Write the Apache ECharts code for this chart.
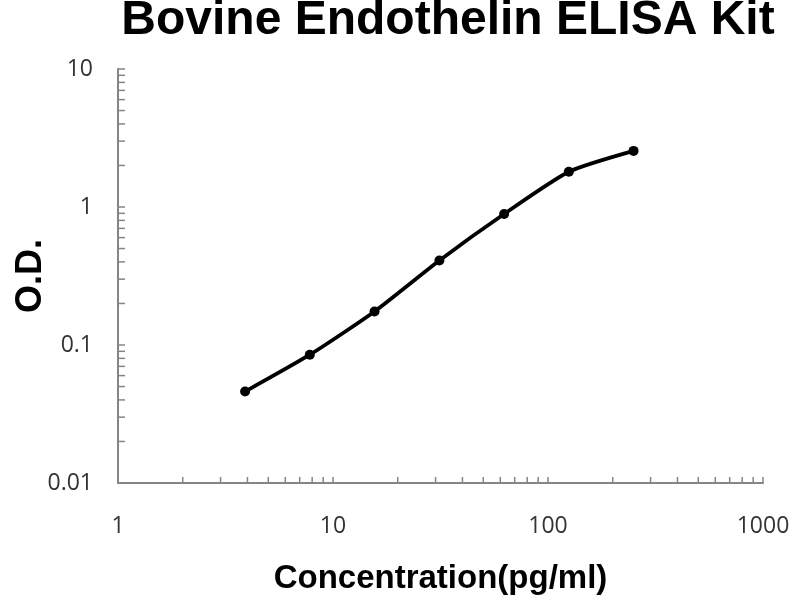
<!DOCTYPE html>
<html><head><meta charset="utf-8">
<script src="https://cdn.jsdelivr.net/npm/echarts@6/dist/echarts.min.js"></script>
<style>html,body{margin:0;padding:0;background:#fff}#c{width:800px;height:600px}</style>
</head><body><div id="c"></div>
<script>
const concentration = [3.9, 7.8, 15.6, 31.25, 62.5, 125, 250];
const od = [0.046, 0.085, 0.175, 0.41, 0.89, 1.8, 2.55];
const xTickLabels = ['1', '10', '100', '1000'];
const yTickLabels = ['0.01', '0.1', '1', '10'];

const xMinor = [], yMinor = [];
for (let e = 0; e < 3; e++) for (let m = 2; m <= 9; m++) xMinor.push([m * Math.pow(10, e), 0.01]);
for (let e = -2; e < 1; e++) for (let m = 2; m <= 9; m++) yMinor.push([1, +(m * Math.pow(10, e)).toPrecision(3)]);

const chart = echarts.init(document.getElementById('c'));
const axisGray = '#858585';
chart.setOption({
  animation: false,
  backgroundColor: '#fff',
  title: {
    text: 'Bovine Endothelin ELISA Kit', left: 443, textAlign: 'center', top: -8,
    textStyle: { fontFamily: 'Liberation Sans', fontWeight: 'bold', fontSize: 48, color: '#000' }
  },
  grid: { left: 118, right: 37, top: 69, bottom: 117, containLabel: false, outerBoundsMode: 'none' },
  xAxis: {
    type: 'log', logBase: 10, min: 1, max: 1000,
    name: 'Concentration(pg/ml)', nameLocation: 'middle', nameGap: 79, nameMoveOverlap: false,
    nameTextStyle: { fontFamily: 'Liberation Sans', fontWeight: 'bold', fontSize: 33, color: '#000' },
    axisLine: { lineStyle: { color: axisGray, width: 2 } },
    axisTick: { inside: true, length: 6, lineStyle: { color: axisGray, width: 1.5 } },
    axisLabel: { margin: 32, fontFamily: 'Open Sans', fontSize: 23, color: '#333',
      formatter: v => xTickLabels[Math.round(Math.log10(v))] },
    splitLine: { show: false }
  },
  yAxis: {
    type: 'log', logBase: 10, min: 0.01, max: 10,
    name: 'O.D.', nameLocation: 'middle', nameGap: 69, nameMoveOverlap: false,
    nameTextStyle: { fontFamily: 'Liberation Sans', fontWeight: 'bold', fontSize: 36, color: '#000' },
    axisLine: { lineStyle: { color: axisGray, width: 2 } },
    axisTick: { inside: true, length: 7, lineStyle: { color: axisGray, width: 1.5 } },
    axisLabel: { margin: 25, fontFamily: 'Open Sans', fontSize: 23, color: '#333',
      formatter: v => yTickLabels[Math.round(Math.log10(v)) + 2] },
    splitLine: { show: false }
  },
  series: [
    {
      type: 'custom', data: xMinor, silent: true, z: 1,
      renderItem: (params, api) => {
        const p = api.coord([api.value(0), api.value(1)]);
        return { type: 'line', shape: { x1: p[0], y1: p[1], x2: p[0], y2: p[1] - 6 },
          style: { stroke: axisGray, lineWidth: 1.5 } };
      }
    },
    {
      type: 'custom', data: yMinor, silent: true, z: 1,
      renderItem: (params, api) => {
        const p = api.coord([api.value(0), api.value(1)]);
        return { type: 'line', shape: { x1: p[0], y1: p[1], x2: p[0] + 7, y2: p[1] },
          style: { stroke: axisGray, lineWidth: 1.5 } };
      }
    },
    {
      type: 'line', smooth: 0.2, z: 5,
      data: concentration.map((c, i) => [c, od[i]]),
      symbol: 'circle', symbolSize: 10,
      itemStyle: { color: '#000' },
      lineStyle: { color: '#000', width: 3.8 }
    }
  ]
});
</script></body></html>
